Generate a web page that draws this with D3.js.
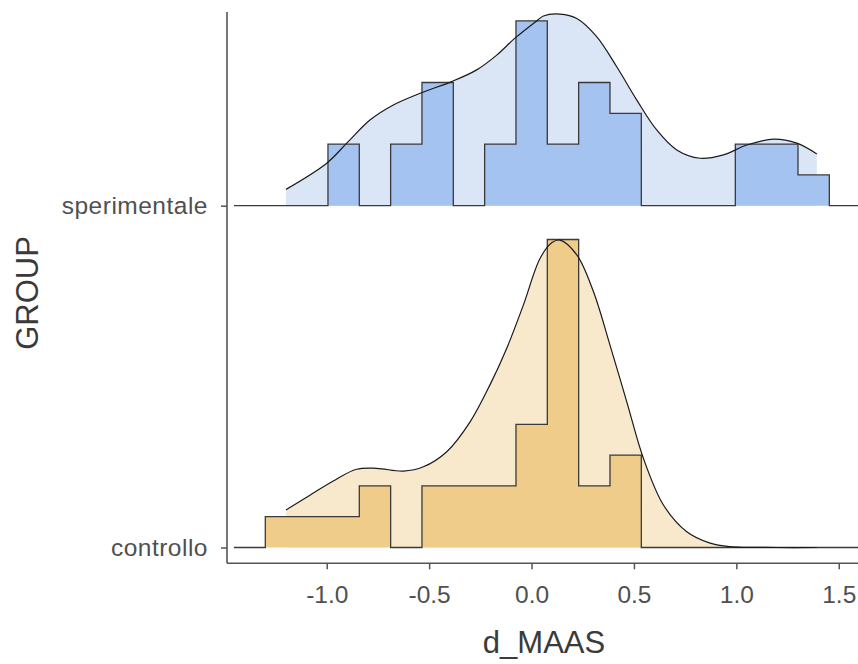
<!DOCTYPE html>
<html>
<head>
<meta charset="utf-8">
<script src="https://cdn.jsdelivr.net/npm/d3@7"></script>
<style>
  body { margin: 0; background: #fff; }
  text { font-family: "Liberation Sans", Arial, sans-serif; }
</style>
</head>
<body>
<div id="plot"></div>
<script>
// groups from bottom to top
const groups = ["controllo", "sperimentale"];
const xTicks = [-1.0, -0.5, 0.0, 0.5, 1.0, 1.5];

// histogram bins (shared by both groups)
const binEdges = [-1.300, -1.147, -0.994, -0.841, -0.688, -0.535, -0.382, -0.229, -0.076,
  0.077, 0.230, 0.383, 0.536, 0.689, 0.842, 0.995, 1.148, 1.301, 1.454];
const countsControllo    = [1, 1, 1, 2, 0, 2, 2, 2, 4, 10, 2, 3, 0, 0, 0, 0, 0, 0];
const countsSperimentale = [0, 0, 2, 0, 2, 4, 0, 2, 6, 2, 4, 3, 0, 0, 0, 2, 2, 1];
// the step line runs along zero a bit past the bins
const stepRange = [-1.453, 1.607];

// density curves, heights in the same units as the counts
const densControllo = [
  [-1.199, 1.22], [-1.082, 1.70], [-0.968, 2.16], [-0.854, 2.54], [-0.756, 2.57],
  [-0.626, 2.48], [-0.528, 2.62], [-0.414, 3.11], [-0.300, 4.08], [-0.203, 5.28],
  [-0.121, 6.47], [-0.040, 7.87], [0.042, 9.39], [0.100, 9.90], [0.139, 9.98],
  [0.221, 9.50], [0.302, 8.31], [0.383, 6.57], [0.465, 4.73], [0.546, 2.90],
  [0.644, 1.38], [0.758, 0.51], [0.872, 0.14], [0.969, 0.03], [1.200, 0.0], [1.393, 0.0]
];
const densSperimentale = [
  [-1.199, 0.53], [-1.000, 1.38], [-0.902, 2.03], [-0.789, 2.78], [-0.675, 3.27],
  [-0.544, 3.65], [-0.390, 4.03], [-0.268, 4.41], [-0.170, 4.89], [-0.081, 5.44],
  [0.025, 6.00], [0.058, 6.16], [0.139, 6.22], [0.221, 6.08], [0.318, 5.49],
  [0.416, 4.51], [0.514, 3.43], [0.611, 2.46], [0.709, 1.81], [0.823, 1.54],
  [0.937, 1.65], [1.051, 1.97], [1.181, 2.16], [1.295, 2.03], [1.393, 1.68]
];

const series = [
  {group: "controllo", counts: countsControllo, dens: densControllo,
   light: "#f8e9cd", dark: "#efcc8a"},
  {group: "sperimentale", counts: countsSperimentale, dens: densSperimentale,
   light: "#dae5f6", dark: "#a5c3f0"}
];

const width = 858, height = 664;
const panel = {left: 227, right: 858, top: 12, bottom: 563.3};

const svg = d3.select("#plot").append("svg")
  .attr("width", width)
  .attr("height", height);

const x = d3.scaleLinear()
  .domain([-1.487, 1.594])
  .range([panel.left, panel.right]);

const y = d3.scalePoint()
  .domain(groups)
  .range([547.5, 205.7]);

// count -> pixel height of a ridge
const h = d3.scaleLinear().domain([0, 10]).range([0, 308]);

svg.append("clipPath").attr("id", "panelClip")
  .append("rect")
  .attr("x", panel.left).attr("y", 0)
  .attr("width", panel.right - panel.left).attr("height", panel.bottom);

const plot = svg.append("g").attr("clip-path", "url(#panelClip)");

series.forEach(s => {
  const base = y(s.group);

  // density fill
  plot.append("path")
    .datum(s.dens)
    .attr("fill", s.light)
    .attr("d", d3.area()
      .curve(d3.curveCatmullRom)
      .x(d => x(d[0]))
      .y0(base)
      .y1(d => base - h(d[1])));

  // histogram as steps
  const steps = [[stepRange[0], 0]];
  s.counts.forEach((c, i) => steps.push([binEdges[i], c]));
  steps.push([binEdges[binEdges.length - 1], 0]);
  steps.push([stepRange[1], 0]);

  plot.append("path")
    .datum(steps)
    .attr("fill", s.dark)
    .attr("d", d3.area()
      .curve(d3.curveStepAfter)
      .x(d => x(d[0]))
      .y0(base)
      .y1(d => base - h(d[1])));

  plot.append("path")
    .datum(steps)
    .attr("fill", "none")
    .attr("stroke", "#3a3a3a")
    .attr("stroke-width", 1.3)
    .attr("d", d3.line()
      .curve(d3.curveStepAfter)
      .x(d => x(d[0]))
      .y(d => base - h(d[1])));

  // density outline
  plot.append("path")
    .datum(s.dens)
    .attr("fill", "none")
    .attr("stroke", "#1a1a1a")
    .attr("stroke-width", 1.2)
    .attr("d", d3.line()
      .curve(d3.curveCatmullRom)
      .x(d => x(d[0]))
      .y(d => base - h(d[1])));
});

// axes
const fmt = d => d3.format(".1f")(d).replace("−", "-");

const xAxis = svg.append("g")
  .attr("transform", `translate(0,${panel.bottom})`)
  .call(d3.axisBottom(x).tickValues(xTicks).tickFormat(fmt).tickSize(6).tickPadding(16));

const yAxis = svg.append("g")
  .attr("transform", `translate(${panel.left},0)`)
  .call(d3.axisLeft(y).tickSize(6).tickPadding(13));

[xAxis, yAxis].forEach(a => {
  a.select(".domain").remove();
  a.selectAll(".tick line").attr("stroke", "#555").attr("stroke-width", 1.5);
  a.selectAll(".tick text")
    .attr("fill", "#505050")
    .style("font-size", "24.5px")
    .style("font-family", "'Liberation Sans', Arial, sans-serif");
});
yAxis.selectAll(".tick text").style("letter-spacing", "0.5px");

svg.append("line")
  .attr("x1", panel.left).attr("x2", panel.left)
  .attr("y1", panel.top).attr("y2", panel.bottom)
  .attr("stroke", "#555").attr("stroke-width", 1.6);

svg.append("line")
  .attr("x1", panel.left).attr("x2", panel.right)
  .attr("y1", panel.bottom).attr("y2", panel.bottom)
  .attr("stroke", "#555").attr("stroke-width", 1.6);

svg.append("text")
  .attr("x", 544)
  .attr("y", 653)
  .attr("text-anchor", "middle")
  .attr("fill", "#3a3a3a")
  .style("font-size", "31px")
  .text("d_MAAS");

svg.append("text")
  .attr("transform", "rotate(-90)")
  .attr("x", -293)
  .attr("y", 38)
  .attr("text-anchor", "middle")
  .attr("fill", "#3a3a3a")
  .style("font-size", "31px")
  .text("GROUP");
</script>
</body>
</html>
